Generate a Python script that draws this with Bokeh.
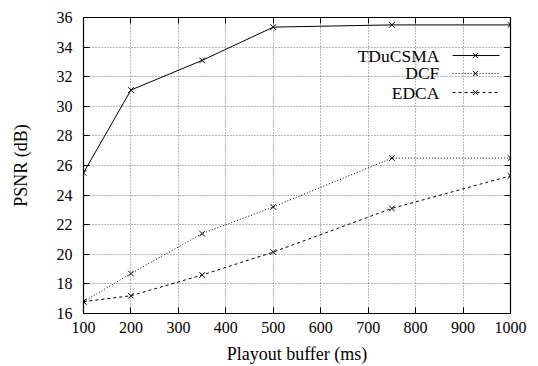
from bokeh.plotting import figure
from bokeh.models import FixedTicker, Range1d, LinearAxis
from bokeh.core.properties import value
from bokeh.embed import file_html
from bokeh.resources import INLINE

# ---- data ----
buffer_ms = [100, 200, 350, 500, 750, 1000]
tducsma = [25.5, 31.1, 33.1, 35.35, 35.5, 35.5]
dcf = [16.8, 18.7, 21.4, 23.2, 26.5, 26.5]
edca = [16.8, 17.2, 18.6, 20.15, 23.1, 25.3]
series_names = ["TDuCSMA", "DCF", "EDCA"]
x_ticks = [100, 200, 300, 400, 500, 600, 700, 800, 900, 1000]
y_ticks = [16, 18, 20, 22, 24, 26, 28, 30, 32, 34, 36]

FONT = "'Liberation Serif', 'Times New Roman', serif"

p = figure(frame_width=427, frame_height=296,
           min_border_left=83, min_border_right=28,
           min_border_top=17, min_border_bottom=53,
           x_range=Range1d(100, 1000), y_range=Range1d(16, 36),
           output_backend="svg", toolbar_location=None,
           background_fill_color="white", border_fill_color="white")

p.outline_line_color = "black"
p.outline_line_width = 1.2

bottom_ax = p.below[0]
left_ax = p.left[0]

# mirror axes (ticks only) on top and right, gnuplot style
top_ax = LinearAxis(ticker=FixedTicker(ticks=x_ticks))
right_ax = LinearAxis(ticker=FixedTicker(ticks=y_ticks))
for ax in (top_ax, right_ax):
    ax.major_label_text_font_size = "0px"
    ax.major_label_standoff = 0
    ax.major_label_text_alpha = 0
p.add_layout(top_ax, "above")
p.add_layout(right_ax, "right")

for ax in (bottom_ax, left_ax, top_ax, right_ax):
    ax.major_tick_in = 6
    ax.major_tick_out = 0
    ax.minor_tick_in = 0
    ax.minor_tick_out = 0
    ax.axis_line_color = "black"
    ax.major_tick_line_color = "black"

for ax in (bottom_ax, left_ax):
    ax.major_label_text_font = FONT
    ax.major_label_text_font_size = "16px"
    ax.major_label_text_color = "black"
    ax.axis_label_text_font = FONT
    ax.axis_label_text_font_size = "18px"
    ax.axis_label_text_font_style = "normal"
    ax.axis_label_text_color = "black"

bottom_ax.ticker = FixedTicker(ticks=x_ticks)
left_ax.ticker = FixedTicker(ticks=y_ticks)
bottom_ax.axis_label = "Playout buffer (ms)"
left_ax.axis_label = "PSNR (dB)"
bottom_ax.major_label_standoff = 8
bottom_ax.axis_label_standoff = 8
left_ax.major_label_standoff = 11
left_ax.axis_label_standoff = 23

p.xgrid[0].ticker = FixedTicker(ticks=x_ticks)
p.ygrid[0].ticker = FixedTicker(ticks=y_ticks)
for g in (p.xgrid[0], p.ygrid[0]):
    g.grid_line_color = "#707070"
    g.grid_line_alpha = 1.0
    g.grid_line_dash = "1 2"
    g.grid_line_width = 1

# series
styles = [("solid", tducsma), ("1 2", dcf), ("3 3", edca)]
for (dash, ys) in styles:
    p.line(buffer_ms, ys, line_color="black", line_width=1, line_dash=dash)
    p.scatter(buffer_ms, ys, marker="x", size=8, line_color="black", line_width=1)

# legend (gnuplot style: text right-aligned, sample on the right)
leg_text_x = 850
leg_x0, leg_x1, leg_xm = 878, 977, 926
leg_y = [33.43, 32.22, 30.93]
for name, (dash, _), yy in zip(series_names, styles, leg_y):
    p.text(x=[leg_text_x], y=[yy], text=[name], text_align="right",
           text_baseline="middle", text_font=value(FONT),
           text_font_size="17.5px", text_color="black")
    p.line([leg_x0, leg_x1], [yy, yy], line_color="black", line_width=1, line_dash=dash)
    p.scatter([leg_xm], [yy], marker="x", size=7, line_color="black", line_width=1)

open("out.html", "w").write(file_html(p, INLINE))
